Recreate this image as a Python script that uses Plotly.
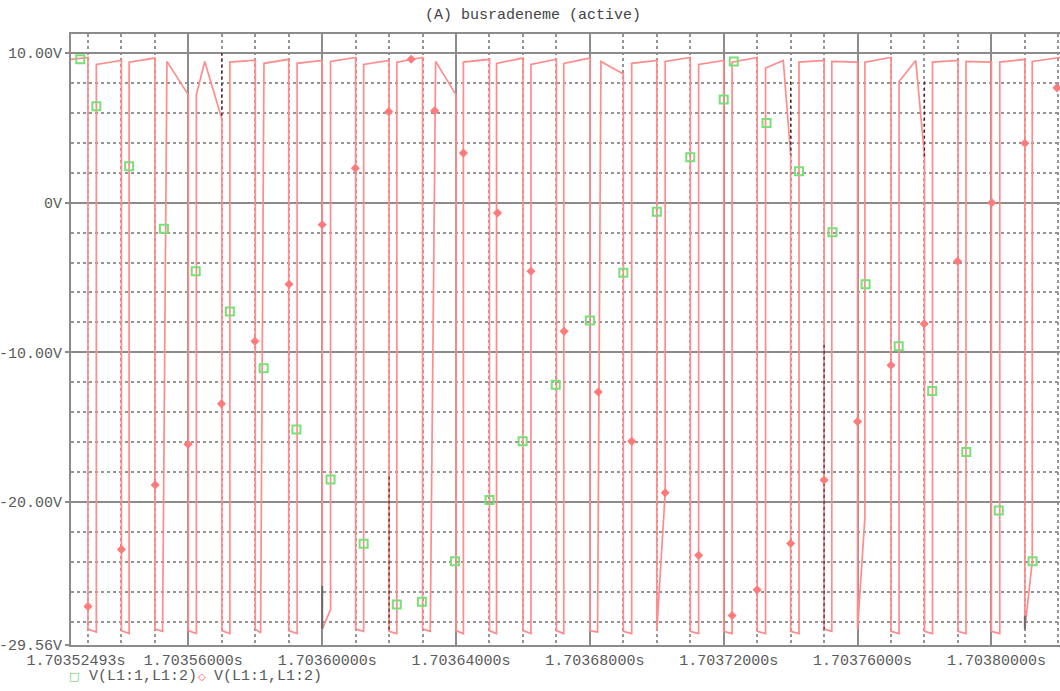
import plotly.graph_objects as go

# times are microseconds after 1.7035 s, voltages in V
wave_t = [24.93, 30.0, 30.0, 32.5, 32.5, 40.0, 40.0, 42.3, 42.3, 50.0, 50.0, 52.3, 53.6, 60.0, 60.0, 62.4, 62.4, 64.9,
          70.0, 70.0, 72.4, 72.4, 80.0, 80.0, 81.6, 82.6, 90.0, 90.0, 92.5, 92.5, 100.0, 100.0, 102.5, 102.5,
          110.0, 110.0, 112.4, 112.4, 120.0, 120.0, 122.3, 122.3, 130.0, 130.0, 132.3, 133.9, 140.0, 140.0,
          142.2, 142.2, 150.0, 150.0, 152.1, 152.1, 160.0, 160.0, 162.4, 162.4, 170.0, 170.0, 172.2, 172.2,
          180.0, 180.0, 182.3, 183.3, 190.0, 190.0, 192.5, 192.5, 200.0, 200.0, 202.5, 202.5, 210.0, 210.0,
          212.5, 212.5, 220.0, 220.0, 222.5, 222.5, 230.0, 230.0, 232.5, 232.5, 237.8, 240.0, 240.0, 242.5,
          242.5, 250.0, 250.0, 252.3, 252.3, 260.0, 260.0, 262.2, 262.2, 270.0, 270.0, 272.4, 272.4, 277.4,
          280.0, 280.0, 282.4, 282.4, 290.0, 290.0, 292.4, 292.4, 300.0, 300.0, 302.5, 302.5, 310.0, 310.0,
          312.2, 312.2, 320.5]
wave_v = [9.58, 9.70, -28.50, -28.70, 9.23, 9.50, -28.60, -28.80, 9.39, 9.66, -28.50, -28.65, 9.44, 7.20, -28.60,
          -28.80, 7.20, 9.44, 5.60, -28.60, -28.80, 9.39, 9.52, -28.50, -28.75, 9.31, 9.58, -28.60, -28.80, 9.31,
          9.50, -28.50, -27.20, 9.44, 9.70, -28.50, -28.65, 9.23, 9.50, -28.65, -28.80, 9.39, 9.70, -28.50,
          -28.65, 9.44, 7.20, -28.60, -28.80, 9.39, 9.58, -28.60, -28.80, 9.31, 9.66, -28.60, -28.80, 9.23,
          9.58, -28.60, -28.80, 9.31, 9.66, -28.60, -28.70, 9.44, 8.60, -28.65, -28.80, 9.31, 9.50, -28.60,
          -19.40, 9.44, 9.70, -28.65, -28.80, 9.23, 9.50, -28.65, -28.80, 9.39, 9.70, -28.65, -28.80, 9.00,
          9.50, 3.20, -28.65, -28.80, 9.39, 9.50, -28.50, -28.65, 9.44, 9.39, -28.50, -21.00, 9.39, 9.70,
          -28.65, -28.80, 8.10, 9.50, 3.10, -28.65, -28.80, 9.39, 9.50, -28.65, -28.80, 9.44, 9.39, -28.65,
          -28.80, 9.39, 9.58, -28.50, -24.00, 9.44, 9.70]

green_t = [27.7, 32.5, 42.3, 52.7, 62.2, 72.4, 82.5, 92.3, 102.5, 112.4, 122.3, 129.8, 139.7, 150.0, 159.9,
           169.8, 180.0, 190.0, 200.0, 210.0, 220.0, 223.0, 232.8, 242.5, 252.5, 262.4, 272.3, 282.3, 292.5,
           302.2, 312.3]
green_v = [9.58, 6.45, 2.43, -1.75, -4.58, -7.27, -11.06, -15.16, -18.50, -22.80, -26.85, -26.67, -23.97,
           -19.87, -15.95, -12.17, -7.88, -4.68, -0.61, 3.04, 6.90, 9.44, 5.32, 2.09, -1.98, -5.45, -9.60,
           -12.59, -16.67, -20.58, -23.97]

red_t = [30.0, 40.0, 50.1, 59.9, 69.9, 79.9, 90.1, 100.0, 109.9, 119.9, 126.6, 133.6, 142.2, 152.4, 162.4,
         172.3, 182.5, 192.5, 202.5, 212.5, 222.5, 230.0, 240.0, 250.0, 260.0, 270.0, 279.9, 289.9, 300.1,
         310.0, 319.6]
red_v = [-26.98, -23.17, -18.86, -16.14, -13.44, -9.26, -5.45, -1.48, 2.30, 6.08, 9.58, 6.14, 3.31, -0.69,
         -4.58, -8.60, -12.65, -15.95, -19.39, -23.57, -27.59, -25.87, -22.78, -18.54, -14.63, -10.87, -8.10,
         -3.92, 0.00, 3.97, 7.67]

# dark cursor/artifact segments
dot_t = [120, 120, None, 240, 240, None, 250, 250, None, 280, 280, None, 70, 70]
dot_v = [-18.3, -28.65, None, 8.1, 3.2, None, -9.5, -28.5, None, 8.1, 3.1, None, 10.0, 5.6]
solid_t = [100, 100, None, 310, 310]
solid_v = [-25.6, -28.5, None, -27.6, -28.5]

x_tick_vals = [24.93, 60, 100, 140, 180, 220, 260, 300]
x_tick_text = ["1.70352493s", "1.70356000s", "1.70360000s", "1.70364000s", "1.70368000s",
               "1.70372000s", "1.70376000s", "1.70380000s"]
y_tick_vals = [10, 0, -10, -20, -29.56]
y_tick_text = ["10.00V", "0V", "-10.00V", "-20.00V", "-29.56V"]

X_RANGE = [24.93, 320.5]
Y_RANGE = [-29.56, 11.27]

FONT = "Liberation Mono"
TXT = "#5a5a5a"
GRID = "#8c8c8c"
MINOR = "#959595"
RED = "#ff8c8c"
GREEN = "#79df79"

fig = go.Figure()
fig.add_trace(go.Scatter(x=wave_t, y=wave_v, mode="lines", line=dict(color=RED, width=1.7),
                         hoverinfo="skip", showlegend=False))
fig.add_trace(go.Scatter(x=dot_t, y=dot_v, mode="lines", line=dict(color="#502020", width=1.2, dash="dot"),
                         hoverinfo="skip", showlegend=False))
fig.add_trace(go.Scatter(x=solid_t, y=solid_v, mode="lines", line=dict(color="#6a6a6a", width=2),
                         hoverinfo="skip", showlegend=False))
fig.add_trace(go.Scatter(x=green_t, y=green_v, mode="markers", name="V(L1:1,L1:2)",
                         marker=dict(symbol="square-open", size=8, color=GREEN, line=dict(width=2, color=GREEN)),
                         showlegend=False))
fig.add_trace(go.Scatter(x=red_t, y=red_v, mode="markers", name="V(L1:1,L1:2)",
                         marker=dict(symbol="diamond", size=7, color="#ff7a7a"),
                         showlegend=False))

W, H = 1060, 691
ML, MR, MT, MB = 71, 0, 34, 46
PW, PH = W - ML - MR, H - MT - MB


def px(x):
    return (x - ML) / PW


def py(y):
    return (H - MB - y) / PH


annotations = [
    dict(text="(A) busradeneme (active)", x=px(533), y=py(15), xref="paper", yref="paper",
         showarrow=False, font=dict(family=FONT, size=15, color="#444444"), xanchor="center", yanchor="middle"),
    dict(text="□", x=px(74), y=py(676), xref="paper", yref="paper", showarrow=False,
         font=dict(family="DejaVu Sans", size=11, color="#55cc55"), xanchor="center", yanchor="middle"),
    dict(text="V(L1:1,L1:2)", x=px(87), y=py(676), xref="paper", yref="paper", showarrow=False,
         font=dict(family=FONT, size=15, color=TXT), xanchor="left", yanchor="middle"),
    dict(text="◇", x=px(202), y=py(676), xref="paper", yref="paper", showarrow=False,
         font=dict(family="DejaVu Sans", size=10, color="#ff6060"), xanchor="center", yanchor="middle"),
    dict(text="V(L1:1,L1:2)", x=px(212), y=py(676), xref="paper", yref="paper", showarrow=False,
         font=dict(family=FONT, size=15, color=TXT), xanchor="left", yanchor="middle"),
]

fig.update_layout(
    width=W, height=H,
    margin=dict(l=ML, r=MR, t=MT, b=MB, pad=0),
    paper_bgcolor="white", plot_bgcolor="white",
    annotations=annotations,
    xaxis=dict(range=X_RANGE, tickmode="array", tickvals=x_tick_vals, ticktext=x_tick_text,
               showgrid=True, gridcolor=GRID, gridwidth=2, zeroline=False,
               showline=True, linecolor=GRID, linewidth=2, mirror=True, ticks="",
               tickfont=dict(family=FONT, size=15, color=TXT), ticklabelshift=5,
               minor=dict(tick0=0, dtick=10, showgrid=True, gridcolor=MINOR, griddash="dot", gridwidth=1.5)),
    yaxis=dict(range=Y_RANGE, tickmode="array", tickvals=y_tick_vals, ticktext=y_tick_text,
               showgrid=True, gridcolor=GRID, gridwidth=2, zeroline=False,
               showline=True, linecolor=GRID, linewidth=2, mirror=False,
               ticks="outside", ticklen=4, tickcolor=GRID, tickwidth=2,
               tickfont=dict(family=FONT, size=15, color=TXT),
               minor=dict(tick0=0, dtick=2, showgrid=True, gridcolor=MINOR, griddash="dot", gridwidth=1.5)),
)

fig.write_html("out.html", config={"displayModeBar": False},
               post_script="document.body.style.margin='0';document.body.style.overflow='hidden';")
